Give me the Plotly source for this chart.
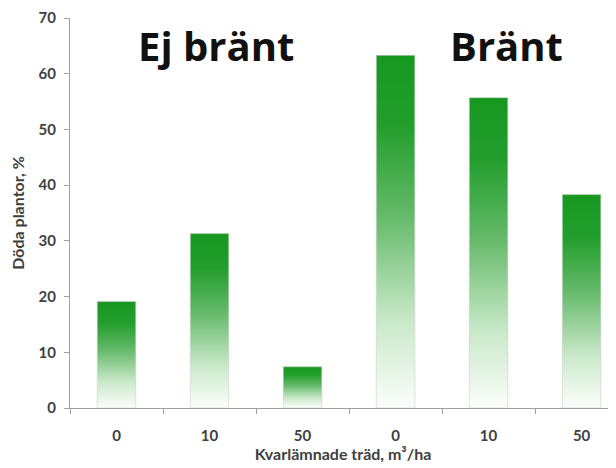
import plotly.graph_objects as go

# Data
categories = ["0", "10", "50", "0", "10", "50"]
values = [19.1, 31.3, 7.4, 63.3, 55.7, 38.3]
group_labels = ["Ej bränt", "Bränt"]
y_ticks = [0, 10, 20, 30, 40, 50, 60, 70]

BAR_W = 0.414
font_family = "Lato, 'Open Sans', sans-serif"
title_family = "'Open Sans', Lato, sans-serif"
txt = "#404040"

fig = go.Figure()
grad = [[0.0, "rgb(252,254,252)"], [0.25, "rgb(200,232,200)"], [0.55, "rgb(100,185,105)"],
        [0.8, "rgb(35,158,45)"], [1.0, "rgb(22,152,32)"]]
for i, v in enumerate(values):
    xs = [i - BAR_W / 2, i - BAR_W / 2, i + BAR_W / 2, i + BAR_W / 2, i - BAR_W / 2]
    ys = [0, v, v, 0, 0]
    fig.add_trace(go.Scatter(
        x=xs, y=ys, mode="lines", fill="toself",
        fillgradient=dict(type="vertical", colorscale=grad),
        line=dict(color="rgba(200,210,200,0.6)", width=1),
        hoverinfo="skip", showlegend=False))

fig.add_annotation(x=1.07, y=65.0, xref="x", yref="y", text="<b>" + group_labels[0] + "</b>",
                   showarrow=False, font=dict(family=title_family, size=40, color="#111111"))
fig.add_annotation(x=4.19, y=65.0, xref="x", yref="y", text="<b>" + group_labels[1] + "</b>",
                   showarrow=False, font=dict(family=title_family, size=40, color="#111111"))

# page body has an 8px margin, so the figure is shifted by 8px; compensate
fig.update_layout(
    width=608, height=460,
    margin=dict(l=62, r=0, t=10, b=60, autoexpand=False),
    plot_bgcolor="white", paper_bgcolor="white",
    font=dict(family=font_family, color=txt),
)
fig.update_xaxes(
    automargin=False,
    range=[-0.5, 5.37], tickmode="array", tickvals=list(range(len(categories))),
    ticktext=["<b>" + c + "</b>" for c in categories], ticks="", ticklabelstandoff=14,
    tickfont=dict(size=15, color=txt),
    showline=True, linecolor="#a0a0a0", linewidth=1, showgrid=False, zeroline=False,
    minor=dict(tickmode="array", tickvals=[k - 0.5 for k in range(len(categories) + 1)],
               ticks="outside", ticklen=5, tickcolor="#a0a0a0"),
    title=dict(text="<b>Kvarlämnade träd, m³/ha</b>", font=dict(size=16, color=txt), standoff=5),
)
fig.update_yaxes(
    automargin=False,
    range=[0, 70], tickmode="array", tickvals=y_ticks,
    ticktext=["<b>%d</b>" % t for t in y_ticks],
    ticks="outside", ticklen=5, tickcolor="#a0a0a0", ticklabelstandoff=5,
    ticklabeloverflow="allow",
    tickfont=dict(size=15, color=txt),
    showline=True, linecolor="#a0a0a0", linewidth=1, showgrid=False, zeroline=False,
    title=dict(text="<b>Döda plantor, %</b>", font=dict(size=16, color=txt), standoff=11),
)

fig.write_html("out.html")
